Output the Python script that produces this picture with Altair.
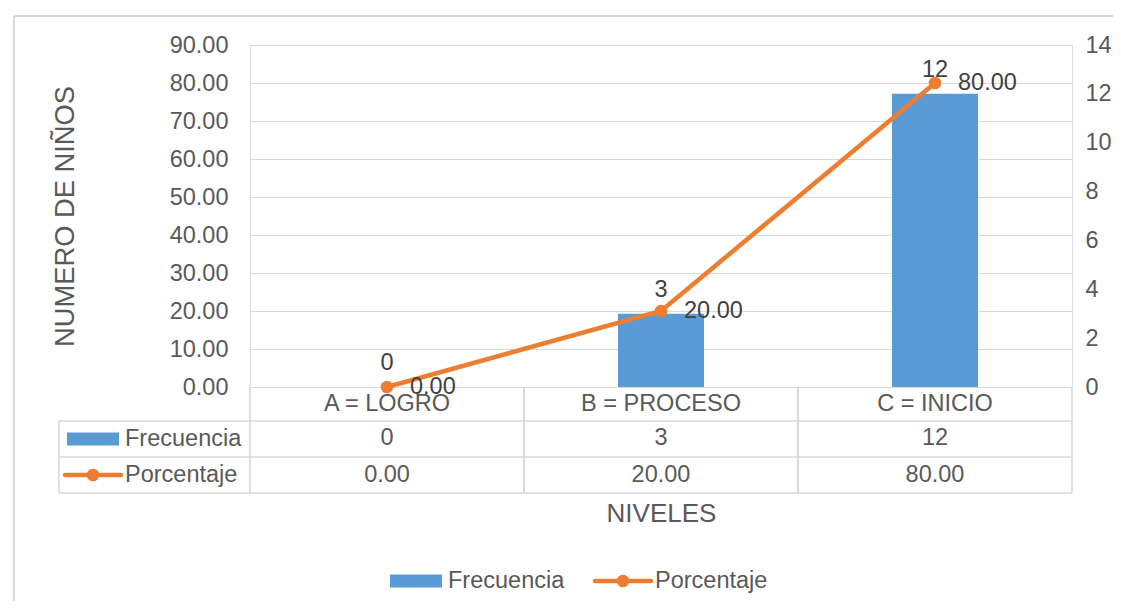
import altair as alt
import pandas as pd

# ---- data ----
niveles = ["A = LOGRO", "B = PROCESO", "C = INICIO"]
frecuencia = [0, 3, 12]
porcentaje = [0.00, 20.00, 80.00]
series = ["Frecuencia", "Porcentaje"]
left_ticks = [0, 10, 20, 30, 40, 50, 60, 70, 80, 90]
right_ticks = [0, 2, 4, 6, 8, 10, 12, 14]

df = pd.DataFrame({"Nivel": niveles, "Frecuencia": frecuencia, "Porcentaje": porcentaje})
one = pd.DataFrame({"k": [0]})

BLUE = "#5B9BD5"
ORANGE = "#ED7D31"
TXT = "#595959"
LBL = "#404040"
GRID = "#D9D9D9"
FONT = "Liberation Sans"
FS = 23.5
TFS = 26

W, H = 822, 342

xaxis = alt.Axis(labels=False, ticks=False, domain=False, title="NIVELES",
                 titleFontSize=TFS, titleFontWeight="normal", titleColor=TXT,
                 titleY=126, titleBaseline="middle", titleFont=FONT)
xscale = alt.Scale(paddingInner=0, paddingOuter=0)


def X(**kw):
    return alt.X("Nivel:N", sort=niveles, scale=xscale, axis=xaxis, **kw)


# ---- bar group (right axis) ----
yf = alt.Y("Frecuencia:Q", scale=alt.Scale(domain=[0, 14]),
           axis=alt.Axis(orient="right", values=right_ticks, format="d", grid=False,
                         domain=False, ticks=False, labelPadding=13, labelFontSize=FS,
                         labelColor=TXT, labelFont=FONT, title=None))
bars = alt.Chart(df).mark_bar(color=BLUE, size=86).encode(x=X(), y=yf)
bar_lbl = alt.Chart(df).mark_text(fontSize=FS, color=LBL, font=FONT, baseline="alphabetic",
                                  dy=-17).encode(x=X(), y=yf, text=alt.Text("Frecuencia:Q", format="d"))
bar_group = alt.layer(bars, bar_lbl)

# ---- line group (left axis) ----
yp = alt.Y("Porcentaje:Q", scale=alt.Scale(domain=[0, 90]),
           axis=alt.Axis(orient="left", values=left_ticks, format=".2f", grid=True,
                         gridColor=GRID, gridWidth=1.2, domain=False, ticks=False,
                         labelPadding=22, labelFontSize=FS, labelColor=TXT, labelFont=FONT,
                         title="NUMERO DE NIÑOS", titleFontSize=27.3, titleFontWeight="normal",
                         titleColor=TXT, titleFont=FONT, titleAngle=270, titleX=-185,
                         titleY=H / 2, titleAlign="center", titleBaseline="middle"))
line = alt.Chart(df).mark_line(color=ORANGE, strokeWidth=4.5, strokeCap="round").encode(x=X(), y=yp)
pts = alt.Chart(df).mark_circle(color=ORANGE, size=160, opacity=1).encode(x=X(), y=yp)
line_lbl = alt.Chart(df).mark_text(fontSize=FS, color=LBL, font=FONT, align="left",
                                   baseline="middle", dx=23).encode(
    x=X(), y=yp, text=alt.Text("Porcentaje:Q", format=".2f"))
line_group = alt.layer(line, pts, line_lbl)

# ---- data table + frame + legend (decoration) ----
TCOL = GRID
tw = 1.6
hlines = alt.Chart(pd.DataFrame({"y": [376, 412, 448]})).mark_rule(color=TCOL, strokeWidth=tw).encode(
    x=alt.value(-191), x2=alt.value(W), y=alt.Y("y:Q", scale=None))
vlines_l = alt.Chart(df).mark_rule(color=TCOL, strokeWidth=tw).encode(
    x=X(bandPosition=0), y=alt.value(H), y2=alt.value(448))
vlines_r = alt.Chart(df).mark_rule(color=TCOL, strokeWidth=tw).encode(
    x=X(bandPosition=1), y=alt.value(H), y2=alt.value(448))
vline_hdr = alt.Chart(one).mark_rule(color=TCOL, strokeWidth=tw).encode(
    x=alt.value(-191), y=alt.value(376), y2=alt.value(448))
frame_top = alt.Chart(one).mark_rule(color=GRID, strokeWidth=2).encode(
    x=alt.value(-236), x2=alt.value(W + 60), y=alt.value(-29))
frame_left = alt.Chart(one).mark_rule(color=GRID, strokeWidth=2).encode(
    x=alt.value(-236), y=alt.value(-29), y2=alt.value(H + 240))

cat_txt = alt.Chart(df).mark_text(fontSize=FS, color=TXT, font=FONT, baseline="middle").encode(
    x=X(), y=alt.value(359), text="Nivel:N")
frec_txt = alt.Chart(df).mark_text(fontSize=FS, color=TXT, font=FONT, baseline="middle").encode(
    x=X(), y=alt.value(393), text=alt.Text("Frecuencia:Q", format="d"))
porc_txt = alt.Chart(df).mark_text(fontSize=FS, color=TXT, font=FONT, baseline="middle").encode(
    x=X(), y=alt.value(430), text=alt.Text("Porcentaje:Q", format=".2f"))


def key_items(xr, yc, xtext):
    """legend key (bar rect, line with dot) + labels"""
    r = alt.Chart(one).mark_rect(color=BLUE).encode(
        x=alt.value(xr[0]), x2=alt.value(xr[0] + 52), y=alt.value(yc[0] - 6.5), y2=alt.value(yc[0] + 6.5))
    l = alt.Chart(one).mark_rule(color=ORANGE, strokeWidth=4.5, strokeCap="round").encode(
        x=alt.value(xr[1]), x2=alt.value(xr[1] + 56), y=alt.value(yc[1]))
    d = alt.Chart(one).mark_circle(color=ORANGE, size=160, opacity=1).encode(
        x=alt.value(xr[1] + 28), y=alt.value(yc[1]))
    t1 = alt.Chart(one).mark_text(fontSize=FS, color=TXT, font=FONT, align="left", baseline="middle",
                                  text=series[0]).encode(x=alt.value(xtext[0]), y=alt.value(yc[0]))
    t2 = alt.Chart(one).mark_text(fontSize=FS, color=TXT, font=FONT, align="left", baseline="middle",
                                  text=series[1]).encode(x=alt.value(xtext[1]), y=alt.value(yc[1]))
    return [r, l, d, t1, t2]


table_keys = key_items((-183, -185), (394, 430), (-125, -125))
legend_keys = key_items((140, 345), (536, 536), (198, 405))

deco = alt.layer(frame_top, frame_left, hlines, vlines_l, vlines_r, vline_hdr,
                 cat_txt, frec_txt, porc_txt, *table_keys, *legend_keys)

chart = alt.layer(bar_group, line_group, deco).resolve_scale(y="independent").properties(
    width=W, height=H,
    autosize=alt.AutoSizeParams(type="none"),
    padding={"left": 242, "top": 37, "right": 41, "bottom": 214},
    background="white",
).configure_view(strokeWidth=0).configure(font=FONT)

chart.save("out.html", embed_options={"renderer": "svg", "actions": False})
